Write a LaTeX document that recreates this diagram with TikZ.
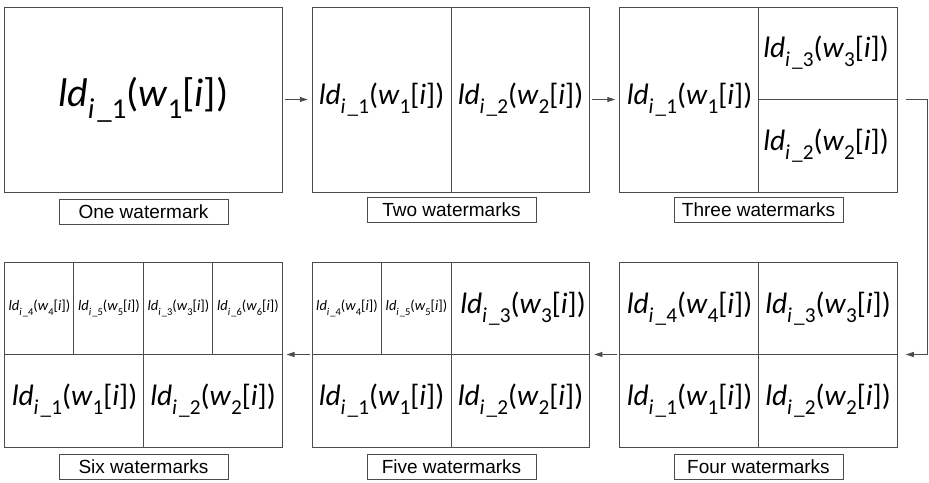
\documentclass[tikz,border=0pt]{standalone}
\usepackage{fontspec}
\setmainfont{Carlito}
\newfontfamily\labelfont{Liberation Sans}
\usetikzlibrary{arrows.meta,calc}
\newcommand\LDW[2]{\textit{ld}\raisebox{-0.3em}{\scalebox{0.72}{\textit{i}\kern0.1em\_#1}}(\textit{w}\raisebox{-0.3em}{\scalebox{0.72}{#2}}[\textit{i}])}
\tikzset{
  wmframe/.style={draw=black!70, line width=1pt, rectangle, minimum width=277.5pt, minimum height=185pt, inner sep=0pt},
  wmdiv/.style={draw=black!70, line width=1pt},
  wmcap/.style={draw=black!70, line width=1pt, rectangle, minimum width=169pt, minimum height=24.5pt, inner sep=0pt, font=\labelfont\fontsize{19}{21}\selectfont},
  wmbig/.style={inner sep=0pt, font=\fontsize{40}{44}\selectfont},
  wmmid/.style={inner sep=0pt, font=\fontsize{29.5}{33}\selectfont},
  wmsml/.style={inner sep=0pt, font=\fontsize{14.5}{16}\selectfont},
  wmarr/.style={draw=black!70, line width=1pt, -{Triangle[length=8pt,width=5pt]}, shorten <=2pt, shorten >=4pt},
}
\begin{document}
\begin{tikzpicture}[x=1pt,y=-1pt]
\useasboundingbox (0,0) rectangle (929,482);
% boxes
\node[wmframe] (b1) at (143.25,99.5) {};
\node[wmframe] (b2) at (451,99.5) {};
\node[wmframe] (b3) at (758.5,99.5) {};
\node[wmframe] (b4) at (758.5,354.5) {};
\node[wmframe] (b5) at (451,354.5) {};
\node[wmframe] (b6) at (143.25,354.5) {};
% dividers
\draw[wmdiv] (b2.north) -- (b2.south);
\draw[wmdiv] (b3.north) -- (b3.south);
\draw[wmdiv] (b3.center) -- (b3.east);
\draw[wmdiv] (b4.north) -- (b4.south);
\draw[wmdiv] (b4.west) -- (b4.east);
\draw[wmdiv] (b5.north) -- (b5.south);
\draw[wmdiv] (b5.west) -- (b5.east);
\draw[wmdiv] ($(b5.north west)!0.25!(b5.north east)$) -- ($(b5.west)!0.5!(b5.center)$);
\draw[wmdiv] (b6.north) -- (b6.south);
\draw[wmdiv] (b6.west) -- (b6.east);
\draw[wmdiv] ($(b6.north west)!0.25!(b6.north east)$) -- ($(b6.west)!0.5!(b6.center)$);
\draw[wmdiv] ($(b6.north west)!0.75!(b6.north east)$) -- ($(b6.center)!0.5!(b6.east)$);
% texts
\node[wmbig] (t1) at (b1.center) {\LDW{1}{1}};
\node[wmmid] (t2a) at (381.5,99.5) {\LDW{1}{1}};
\node[wmmid] (t2b) at (520.5,99.5) {\LDW{2}{2}};
\node[wmmid] (t3a) at (689.5,99.5) {\LDW{1}{1}};
\node[wmmid] (t3b) at (826,53) {\LDW{3}{3}};
\node[wmmid] (t3c) at (826,146) {\LDW{2}{2}};
\node[wmmid] (t4a) at (689.5,308.5) {\LDW{4}{4}};
\node[wmmid] (t4b) at (828,308.5) {\LDW{3}{3}};
\node[wmmid] (t4c) at (689.5,401) {\LDW{1}{1}};
\node[wmmid] (t4d) at (828,401) {\LDW{2}{2}};
\node[wmsml] (t5a) at (347,308.5) {\LDW{4}{4}};
\node[wmsml] (t5b) at (416.5,308.5) {\LDW{5}{5}};
\node[wmmid] (t5c) at (523,308.5) {\LDW{3}{3}};
\node[wmmid] (t5d) at (381.5,401) {\LDW{1}{1}};
\node[wmmid] (t5e) at (520.5,401) {\LDW{2}{2}};
\node[wmsml] (t6a) at (39.5,308.5) {\LDW{4}{4}};
\node[wmsml] (t6b) at (109,308.5) {\LDW{5}{5}};
\node[wmsml] (t6c) at (178.5,308.5) {\LDW{3}{3}};
\node[wmsml] (t6d) at (248,308.5) {\LDW{6}{6}};
\node[wmmid] (t6e) at (74.5,401) {\LDW{1}{1}};
\node[wmmid] (t6f) at (213,401) {\LDW{2}{2}};
% captions
\node[wmcap] (c1) at (143.5,212) {One watermark};
\node[wmcap] (c2) at (451.5,210) {Two watermarks};
\node[wmcap] (c3) at (758.5,210) {Three watermarks};
\node[wmcap] (c4) at (758.5,467) {Four watermarks};
\node[wmcap] (c5) at (451.5,467) {Five watermarks};
\node[wmcap] (c6) at (143.5,467) {Six watermarks};
% arrows
\draw[wmarr] (b1.east) -- (b2.west);
\draw[wmarr] (b2.east) -- (b3.west);
\draw[wmarr, shorten <=8pt, shorten >=8pt] (b3.east) -- ++(30,0) |- (b4.east);
\draw[wmarr] (b4.west) -- (b5.east);
\draw[wmarr] (b5.west) -- (b6.east);
\end{tikzpicture}
\end{document}
